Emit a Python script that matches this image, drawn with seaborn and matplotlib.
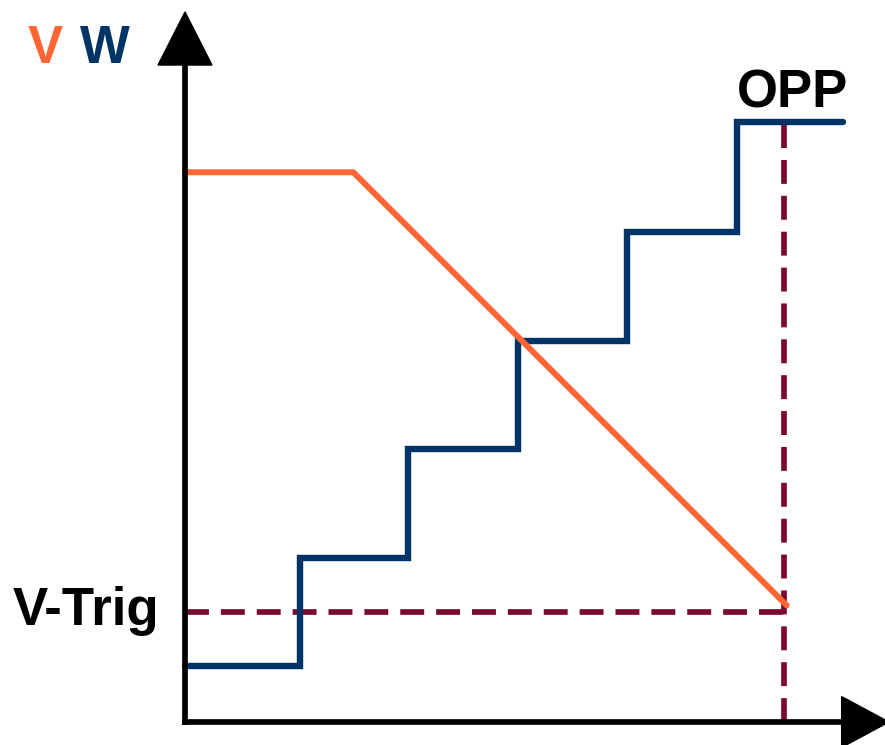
import matplotlib
matplotlib.use("Agg")
import matplotlib.pyplot as plt
import seaborn as sns
import pandas as pd
from matplotlib.patches import Polygon

sns.set_theme(style="white")
plt.rcParams['font.family'] = ['Liberation Sans', 'DejaVu Sans']

# Data (abstract units)
w_x = [0, 1.05, 2.03, 3.03, 4.02, 5.02, 5.98]
w_y = [0.52, 1.52, 2.53, 3.53, 4.54, 5.56, 5.56]
v_x = [0, 1.53, 5.47]
v_y = [5.09, 5.09, 1.08]
v_trig = 1.02
opp_x = 5.45

ORANGE = "#FF6633"
NAVY = "#003366"
MAROON = "#7A0A30"

fig = plt.figure(figsize=(8.85, 7.45), dpi=100)
ax = fig.add_axes([0, 0, 1, 1])
ax.set_xlim(-1.682, 6.364)
ax.set_ylim(-0.213, 6.685)
ax.axis("off")

# dashed reference lines
dash = (4.2, 2.1)
sns.lineplot(x=[0, opp_x], y=[v_trig, v_trig], ax=ax, color=MAROON, lw=4.1,
             linestyle=(0, dash), zorder=2)
sns.lineplot(x=[opp_x, opp_x], y=[0, w_y[-1]], ax=ax, color=MAROON, lw=4.1,
             linestyle=(0, dash), orient="y", zorder=2)

# W step line
sns.lineplot(x=w_x, y=w_y, ax=ax, color=NAVY, lw=4.6, drawstyle="steps-post",
             estimator=None, sort=False, zorder=3)
for l in ax.lines[-1:]:
    l.set_solid_joinstyle("miter")
# V line
sns.lineplot(x=v_x, y=v_y, ax=ax, color=ORANGE, lw=4.3, estimator=None,
             sort=False, zorder=4)

# axes with arrows
ax.plot([0, 0], [-0.025, 6.09], color="black", lw=4.1, solid_capstyle="butt", zorder=5)
ax.plot([-0.025, 5.98], [0, 0], color="black", lw=4.1, solid_capstyle="butt", zorder=5)
ax.add_patch(Polygon([[-0.245, 6.083], [0.245, 6.083], [0, 6.574]], closed=True,
                     color="black", zorder=6))
ax.add_patch(Polygon([[5.97, 0.235], [5.97, -0.235], [6.40, 0]], closed=True,
                     color="black", zorder=6))

fs = 38
ax.text(-1.427, 6.10, "V", color=ORANGE, fontsize=fs, fontweight="bold", va="baseline", ha="left")
ax.text(-0.955, 6.10, "W", color=NAVY, fontsize=fs, fontweight="bold", va="baseline", ha="left")
ax.text(-1.564, 0.898, "V-Trig", color="black", fontsize=fs, fontweight="bold", va="baseline", ha="left")
ax.text(5.018, 5.694, "OPP", color="black", fontsize=fs, fontweight="bold", va="baseline", ha="left")

fig.savefig("out.png", dpi=100)
